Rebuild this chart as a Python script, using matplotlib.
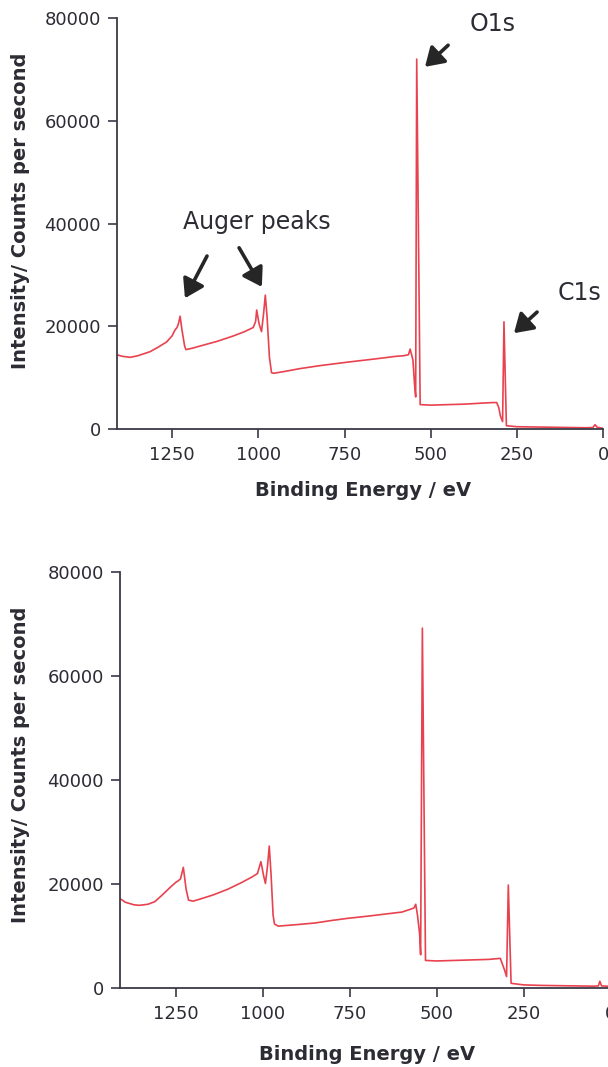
import matplotlib
matplotlib.use("Agg")
import matplotlib.pyplot as plt

# ---------------- data ----------------
top_be = [1410, 1395, 1372, 1350, 1314, 1290, 1266, 1250, 1242, 1236, 1232, 1227,
          1222, 1214, 1210, 1190, 1169, 1120, 1073, 1040, 1015, 1008, 1005, 998,
          991, 985, 980, 975, 968, 962, 955, 920, 880, 820, 737, 660, 600, 580,
          565, 560, 552, 547, 544, 541, 531, 500, 450, 400, 350, 320, 309, 303,
          298, 292, 288, 281, 250, 200, 150, 100, 50, 30, 24, 18, 10, 0]
top_cps = [14500, 14200, 14000, 14300, 15100, 16000, 17000, 18200, 19300, 19800, 20500, 22000,
           19500, 16200, 15500, 15800, 16200, 17100, 18150, 19000, 19800, 21000, 23200, 20500,
           19000, 22500, 26100, 22000, 14000, 11000, 10900, 11300, 11800, 12400, 13100, 13700, 14200, 14300,
           14500, 15600, 13500, 8500, 6300, 72000, 4800, 4700, 4800, 4900, 5100, 5200, 5200, 4200,
           2500, 1500, 20900, 700, 500, 450, 400, 350, 300, 350, 900, 400, 300, 200]

bot_be = [1410, 1395, 1370, 1354, 1330, 1310, 1290, 1265, 1250, 1243, 1236, 1228,
          1220, 1213, 1200, 1180, 1142, 1100, 1060, 1032, 1015, 1005, 997, 992,
          986, 981, 976, 970, 966, 955, 900, 850, 800, 755, 700, 650, 600, 577,
          565, 560, 555, 549, 546, 541, 532, 500, 450, 400, 350, 317, 305, 299,
          294, 286, 250, 200, 150, 100, 50, 35, 31, 26, 10, 0]
bot_cps = [17200, 16500, 16000, 15900, 16100, 16600, 17800, 19400, 20300, 20600, 21000, 23200,
           19000, 16900, 16700, 17100, 17900, 19000, 20300, 21300, 22000, 24300, 21500, 20100,
           23500, 27300, 22000, 14000, 12300, 11900, 12200, 12500, 13000, 13400, 13800, 14200, 14600, 15100,
           15400, 16100, 14000, 10500, 6400, 69200, 5300, 5200, 5300, 5400, 5500, 5700, 3500, 2200,
           19800, 900, 600, 500, 450, 400, 350, 400, 1300, 400, 350, 300]

x_ticks = [1250, 1000, 750, 500, 250, 0]
y_ticks = [0, 20000, 40000, 60000, 80000]
x_label = "Binding Energy / eV"
y_label = "Intensity/ Counts per second"

# ---------------- style ----------------
LINE = "#e8424f"
AXC = "#3a3a48"
TXT = "#2c2c34"
plt.rcParams["font.family"] = ["DejaVu Sans"]

W, H = 608, 1067
fig = plt.figure(figsize=(W / 100, H / 100), dpi=100)
fig.patch.set_facecolor("white")


def px_axes(left, right, top, bottom):
    return fig.add_axes([left / W, 1 - bottom / H, (right - left) / W, (bottom - top) / H])


def style(ax):
    ax.set_xlim(1410, 0)
    ax.set_ylim(0, 80000)
    ax.set_xticks(x_ticks)
    ax.set_yticks(y_ticks)
    for s in ("top", "right"):
        ax.spines[s].set_visible(False)
    for s in ("left", "bottom"):
        ax.spines[s].set_color(AXC)
        ax.spines[s].set_linewidth(1.3)
    ax.tick_params(axis="both", direction="out", length=6.5, width=1.2,
                   colors=AXC, labelcolor=TXT, labelsize=13)
    ax.tick_params(axis="x", pad=5.5)
    ax.tick_params(axis="y", pad=5.0)
    for lab in ax.get_xticklabels() + ax.get_yticklabels():
        lab.set_clip_on(False)
    ax.patch.set_alpha(0)


ax1 = px_axes(117, 603.3, 18, 429.3)
ax1.plot(top_be, top_cps, color=LINE, lw=1.2)
style(ax1)

ax2 = px_axes(120, 610.6, 572, 988)
ax2.plot(bot_be, bot_cps, color=LINE, lw=1.2)
style(ax2)

# axis labels
fig.text(21 / W, 1 - 211 / H, y_label, rotation=90, ha="center", va="center",
         fontsize=14, fontweight="bold", color=TXT)
fig.text(21 / W, 1 - 765 / H, y_label, rotation=90, ha="center", va="center",
         fontsize=14, fontweight="bold", color=TXT)
fig.text(363 / W, 1 - 491 / H, x_label, ha="center", va="center",
         fontsize=14, fontweight="bold", color=TXT)
fig.text(367 / W, 1 - 1054 / H, x_label, ha="center", va="center",
         fontsize=14, fontweight="bold", color=TXT)

# annotations on top plot
arrow = dict(arrowstyle="-|>,head_length=0.55,head_width=0.35", lw=2.6,
             color="#262626", mutation_scale=20, shrinkA=0, shrinkB=0)
ax1.text(320, 78800, "O1s", ha="center", va="center", fontsize=17, color=TXT, clip_on=False)
ax1.annotate("", xy=(517, 70500), xytext=(450, 74700), arrowprops=arrow)
ax1.text(70, 26500, "C1s", ha="center", va="center", fontsize=17, color=TXT, clip_on=False)
ax1.annotate("", xy=(259, 18700), xytext=(192, 22800), arrowprops=arrow)
ax1.text(1004, 40300, "Auger peaks", ha="center", va="center", fontsize=17, color=TXT)
ax1.annotate("", xy=(1213, 25500), xytext=(1149, 33700), arrowprops=arrow)
ax1.annotate("", xy=(990, 27700), xytext=(1056, 35300), arrowprops=arrow)

fig.savefig("out.png", dpi=100, facecolor="white")
